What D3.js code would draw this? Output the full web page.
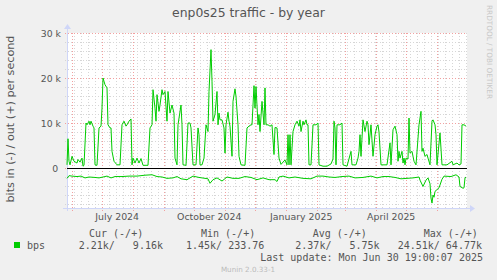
<!DOCTYPE html>
<html>
<head>
<meta charset="utf-8">
<script src="https://cdn.jsdelivr.net/npm/d3@7"></script>
<style>
  body { margin: 0; background: #f0f0f0; }
  svg { display: block; }
  text { white-space: pre; }
</style>
</head>
<body>
<svg id="chart" width="497" height="280"></svg>
<script>
// last update of the graph, the year graph covers 400 days before it
const lastUpdate = new Date(Date.UTC(2025, 5, 30, 19, 0, 7));
const spanDays = 400;

// out (+) traffic, day offset from start / value in k bits per second
const outDays = [0, 1, 2, 3, 5, 7, 10, 11, 13, 15, 16, 17, 19, 20, 22, 23, 24, 26, 27, 28, 30, 32, 34, 35, 36, 38, 40, 41, 43, 44, 45, 47, 50, 53, 55, 57, 59, 60, 62, 64, 65, 66, 68, 70, 72, 74, 76, 81, 83, 85, 86, 88, 89, 90, 92, 93, 95, 96, 98, 100, 101, 103, 105, 107, 108, 110, 111, 114, 115, 116, 119, 121, 123, 124, 126, 129, 131, 132, 133, 135, 137, 139, 141, 142, 144, 145, 146, 148, 150, 151, 152, 153, 155, 157, 158, 159, 161, 162, 163, 165, 166, 168, 169, 171, 172, 174, 178, 180, 182, 184, 185, 187, 188, 189, 191, 192, 193, 195, 197, 198, 199, 201, 203, 205, 207, 208, 210, 212, 214, 218, 220, 221, 222, 223, 224, 226, 228, 230, 232, 233, 234, 236, 237, 239, 240, 241, 242, 244, 246, 249, 251, 252, 256, 260, 264, 266, 267, 268, 269, 270, 273, 275, 276, 280, 284, 285, 289, 291, 292, 293, 294, 296, 298, 300, 301, 302, 304, 306, 308, 310, 311, 312, 314, 320, 323, 324, 326, 328, 330, 331, 332, 333, 335, 336, 337, 338, 339, 341, 342, 343, 345, 347, 349, 352, 354, 355, 356, 358, 360, 361, 363, 365, 366, 368, 369, 370, 373, 375, 380, 385, 386, 390, 392, 394, 395, 397, 399];
const outK = [0.7, 6.5, 1.5, 0.7, 2.6, 1.5, 1.1, 1.9, 1.3, 2.2, 0.4, 0.6, 10, 9.6, 10.4, 9.6, 10.4, 9.3, 8.9, 0.7, 0.6, 8.9, 9.3, 13.3, 20, 18.5, 17.8, 9.6, 8.9, 8.9, 3.7, 1.5, 0.7, 0.7, 9.6, 10.4, 9.3, 9.6, 10.4, 10.9, 0.7, 2.2, 1.1, 2.2, 1.1, 2.1, 0.6, 0.6, 8.9, 9.6, 17.4, 13.3, 10.4, 16.3, 12.6, 14, 17.4, 16.3, 17, 10.4, 17, 12.2, 14, 12.2, 2.2, 0.7, 9.6, 14, 9.6, 0.7, 0.6, 10, 10, 8.9, 0.7, 0.7, 8.9, 7.4, 0.7, 0.7, 2.2, 9.6, 8.1, 17, 26.3, 19.3, 10.4, 11.9, 17, 9.6, 12.2, 10.7, 10.7, 8.9, 3.3, 9.6, 12.4, 10.4, 9.3, 2.6, 14.8, 17.6, 15.9, 9.6, 2.6, 0.7, 0.6, 8.9, 9.3, 9.6, 9.6, 18.3, 13.3, 18.1, 9.6, 11.9, 8.1, 14.8, 9.6, 17.8, 9.6, 9.6, 9.3, 9.6, 3, 9, 8.9, 2.2, 0.8, 1.8, 0.7, 7.4, 0.7, 7.4, 0.7, 8.1, 9.6, 10.4, 9.3, 10.7, 8.1, 10.4, 9.6, 10.7, 9.6, 9.6, 0.7, 0.7, 9.6, 9.6, 10, 0.7, 0.4, 0.4, 0.9, 2, 10.4, 8.9, 0.7, 9.6, 9.6, 10, 0.7, 0.4, 3.7, 0.7, 0.7, 2.2, 3.7, 7.4, 2.6, 10.7, 8.1, 10.4, 9.6, 5.2, 9.6, 2.6, 7.4, 9.3, 9.6, 8, 0.7, 0.7, 5.6, 0.7, 8.5, 9.3, 7.4, 1.5, 3.7, 2.2, 3.7, 1.1, 2.2, 0.7, 2.2, 2, 11.1, 3.3, 3.7, 1.5, 0.7, 9.6, 12.6, 3.7, 4.4, 2.6, 3, 2.2, 0.7, 10.4, 10.7, 9.6, 7.4, 0.7, 7.8, 0.7, 0.7, 1.5, 0.7, 1.1, 0.7, 0.9, 9.6, 9.6, 9.3];

// in (-) traffic, drawn below zero
const inDays = [0, 2, 5, 10, 14, 18, 22, 28, 32, 36, 40, 44, 48, 55, 62, 70, 78, 85, 90, 95, 100, 106, 110, 114, 120, 126, 132, 138, 141, 143, 146, 150, 155, 160, 166, 172, 178, 184, 190, 196, 202, 208, 210, 212, 216, 222, 228, 236, 244, 250, 256, 262, 268, 275, 282, 288, 296, 304, 310, 316, 322, 328, 334, 340, 346, 352, 353, 356, 359, 361, 363, 364, 365, 366, 367, 368, 370, 372, 375, 377, 384, 389, 392, 393, 396, 397, 398, 399];
const inK = [2.3, 1.7, 1.8, 1.9, 1.8, 2.2, 2.0, 2.1, 2.2, 2.0, 1.8, 2.2, 1.9, 1.9, 1.8, 1.8, 1.6, 1.5, 1.9, 2.0, 2.3, 2.2, 1.9, 2.4, 2.6, 1.8, 2.1, 2.3, 2.4, 3.4, 2.6, 2.2, 2.9, 2.0, 2.3, 2.3, 1.9, 2.1, 2.6, 2.2, 2.6, 2.6, 3.0, 2.0, 1.8, 2.2, 2.0, 2.3, 2.4, 1.8, 1.8, 2.0, 2.1, 1.9, 1.8, 2.2, 2.1, 1.8, 2.2, 1.9, 1.9, 2.1, 2.4, 2.3, 2.2, 2.0, 2.7, 4.1, 2.7, 2.2, 3.5, 6.7, 7.8, 6.0, 6.5, 5.2, 4.8, 4.4, 2.5, 1.8, 1.9, 1.5, 2.0, 4.1, 4.5, 4.4, 2.2, 2.0];

const yTickValues = [0, 10, 20, 30];
const yTickLabels = ["0 ", "10 k", "20 k", "30 k"];

const legendHeads = ["Cur (-/+)", "Min (-/+)", "Avg (-/+)", "Max (-/+)"];
const legendValues = ["2.21k/   9.16k", "1.45k/ 233.76", "2.37k/   5.75k", "24.51k/ 64.77k"];
const seriesName = "bps";

const W = 497, H = 280;
const plot = { left: 67, right: 467, top: 33, bottom: 208 };
const fontColor = "#555";
const lineColor = "#00cc00";
const axisColor = "#cfd6f8";

const svg = d3.select("#chart");

svg.append("rect").attr("width", W).attr("height", H).attr("fill", "#f0f0f0");

const start = new Date(+lastUpdate - spanDays * 864e5);
const x = d3.scaleUtc().domain([start, lastUpdate]).range([plot.left, plot.right]);
const y = d3.scaleLinear().domain([-40 / 4.5, 30]).range([plot.bottom, plot.top]);
const dayDate = (d) => new Date(+start + d * 864e5);
const px = (v) => Math.round(v) + 0.5;

// canvas
svg.append("rect")
  .attr("x", plot.left).attr("y", plot.top)
  .attr("width", plot.right - plot.left).attr("height", plot.bottom - plot.top)
  .attr("fill", "white");

const grid = svg.append("g").attr("shape-rendering", "crispEdges");

// minor grid, every 2k and every week
const minorY = d3.range(-8, 31, 2).filter((v) => v % 10 !== 0);
grid.selectAll(".hminor").data(minorY).enter().append("line")
  .attr("x1", plot.left - 2).attr("x2", plot.right)
  .attr("y1", (d) => px(y(d))).attr("y2", (d) => px(y(d)))
  .attr("stroke", "#d6d6d6").attr("stroke-dasharray", "1,2");

const weeks = d3.utcMonday.range(start, lastUpdate);
grid.selectAll(".vminor").data(weeks).enter().append("line")
  .attr("x1", (d) => px(x(d))).attr("x2", (d) => px(x(d)))
  .attr("y1", plot.top).attr("y2", plot.bottom + 2)
  .attr("stroke", "#d6d6d6").attr("stroke-dasharray", "1,2");

// major grid, every 10k and every month
grid.selectAll(".hmajor").data(yTickValues).enter().append("line")
  .attr("x1", plot.left - 2).attr("x2", plot.right)
  .attr("y1", (d) => px(y(d))).attr("y2", (d) => px(y(d)))
  .attr("stroke", "#f2a0a0").attr("stroke-dasharray", "1,2");

const months = d3.utcMonth.range(start, lastUpdate);
grid.selectAll(".vmajor").data(months).enter().append("line")
  .attr("x1", (d) => px(x(d))).attr("x2", (d) => px(x(d)))
  .attr("y1", plot.top).attr("y2", plot.bottom + 3)
  .attr("stroke", "#f2a0a0").attr("stroke-dasharray", "1,2");

// axes with arrows
svg.append("line")
  .attr("x1", plot.left - 4).attr("x2", plot.right + 4)
  .attr("y1", plot.bottom + 0.5).attr("y2", plot.bottom + 0.5)
  .attr("stroke", axisColor);
svg.append("line")
  .attr("x1", plot.left + 0.5).attr("x2", plot.left + 0.5)
  .attr("y1", plot.bottom + 3).attr("y2", plot.top - 5)
  .attr("stroke", axisColor);
svg.append("path")
  .attr("d", `M${plot.right + 8},${plot.bottom + 0.5} L${plot.right + 3},${plot.bottom - 3} L${plot.right + 3},${plot.bottom + 4} Z`)
  .attr("fill", axisColor);
svg.append("path")
  .attr("d", `M${plot.left + 0.5},${plot.top - 9} L${plot.left - 3},${plot.top - 4} L${plot.left + 4},${plot.top - 4} Z`)
  .attr("fill", axisColor);

// y labels
svg.selectAll(".ylab").data(yTickValues).enter().append("text")
  .attr("x", 61).attr("y", (d) => y(d) + 3.5)
  .attr("text-anchor", "end")
  .attr("font-family", "DejaVu Sans").attr("font-size", 9.3)
  .attr("fill", fontColor)
  .text((d, i) => yTickLabels[i]);

// x labels, every quarter, placed mid month
const quarters = d3.utcMonth.every(3).range(d3.utcMonth.offset(start, 1), lastUpdate);
svg.selectAll(".xlab").data(quarters).enter().append("text")
  .attr("x", (d) => x(d3.utcDay.offset(d, 15)))
  .attr("y", 220)
  .attr("text-anchor", "middle")
  .attr("font-family", "DejaVu Sans").attr("font-size", 9.4)
  .attr("fill", fontColor)
  .text(d3.utcFormat("%B %Y"));

// zero line
svg.append("line")
  .attr("x1", plot.left).attr("x2", plot.right)
  .attr("y1", px(y(0))).attr("y2", px(y(0)))
  .attr("stroke", "black").attr("shape-rendering", "crispEdges");

// series
const line = d3.line().x((d) => x(dayDate(d[0]))).y((d) => y(d[1]));
const outPts = outDays.map((d, i) => [d, outK[i]]);
const inPts = inDays.map((d, i) => [d, -inK[i]]);

svg.append("path").datum(outPts)
  .attr("d", line).attr("fill", "none")
  .attr("stroke", lineColor).attr("stroke-width", 1);
svg.append("path").datum(inPts)
  .attr("d", line).attr("fill", "none")
  .attr("stroke", lineColor).attr("stroke-width", 1);

// title and side texts
svg.append("text")
  .attr("x", 248.5).attr("y", 16.5)
  .attr("text-anchor", "middle")
  .attr("font-family", "DejaVu Sans").attr("font-size", 12.4)
  .attr("fill", fontColor)
  .text("enp0s25 traffic - by year");

svg.append("text")
  .attr("transform", "translate(13.5,119) rotate(-90)")
  .attr("text-anchor", "middle")
  .attr("font-family", "DejaVu Sans").attr("font-size", 11.2)
  .attr("fill", fontColor)
  .text("bits in (-) / out (+) per second");

svg.append("text")
  .attr("transform", "translate(486.5,5) rotate(90)")
  .attr("font-family", "DejaVu Sans").attr("font-size", 7.3)
  .attr("fill", "#c8c8c8")
  .text("RRDTOOL / TOBI OETIKER");

// legend
const headX = [89, 201, 312.7, 423.7];
const valX = [78.7, 186, 295.3, 397.7];
const mono = (sel) => sel.attr("font-family", "DejaVu Sans Mono").attr("font-size", 10).attr("fill", fontColor);

svg.selectAll(".lhead").data(legendHeads).enter().append("text")
  .attr("x", (d, i) => headX[i]).attr("y", 236.5)
  .call(mono).text((d) => d);

svg.append("rect")
  .attr("x", 14).attr("y", 242).attr("width", 6).attr("height", 6)
  .attr("fill", lineColor);
svg.append("text").attr("x", 27).attr("y", 249).call(mono).text(seriesName);

svg.selectAll(".lval").data(legendValues).enter().append("text")
  .attr("x", (d, i) => valX[i]).attr("y", 249)
  .call(mono).text((d) => d);

svg.append("text")
  .attr("x", 483).attr("y", 261)
  .attr("text-anchor", "end")
  .call(mono)
  .text("Last update: Mon Jun 30 19:00:07 2025");

svg.append("text")
  .attr("x", 248).attr("y", 272)
  .attr("text-anchor", "middle")
  .attr("font-family", "DejaVu Sans").attr("font-size", 7.2)
  .attr("fill", "#bbb")
  .text("Munin 2.0.33-1");
</script>
</body>
</html>
